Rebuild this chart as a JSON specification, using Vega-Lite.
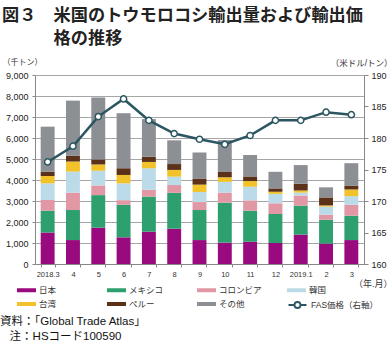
{
  "$schema": "https://vega.github.io/schema/vega-lite/v6.json",
  "width": 329,
  "height": 189,
  "autosize": "none",
  "padding": {"left": 35, "top": 75, "right": 28, "bottom": 88},
  "background": "white",
  "config": {
    "font": "Liberation Sans, Noto Sans CJK JP",
    "view": {"stroke": null},
    "legend": {"padding": 0}
  },
  "title": {
    "text": ["図３　米国のトウモロコシ輸出量および輸出価", "\u200b　　　格の推移"],
    "anchor": "start",
    "frame": "group",
    "font": "Noto Sans CJK JP",
    "fontSize": 17.2,
    "fontWeight": "bold",
    "color": "#222222",
    "lineHeight": 23,
    "offset": 11,
    "dx": -33
  },
  "datasets": {
    "bars": [
      {"month": "2018.3", "country": "日本", "value": 1500},
      {"month": "2018.3", "country": "メキシコ", "value": 1040},
      {"month": "2018.3", "country": "コロンビア", "value": 510},
      {"month": "2018.3", "country": "韓国", "value": 790},
      {"month": "2018.3", "country": "台湾", "value": 350},
      {"month": "2018.3", "country": "ペルー", "value": 210},
      {"month": "2018.3", "country": "その他", "value": 2140},
      {"month": "4", "country": "日本", "value": 1140},
      {"month": "4", "country": "メキシコ", "value": 1430},
      {"month": "4", "country": "コロンビア", "value": 830},
      {"month": "4", "country": "韓国", "value": 1000},
      {"month": "4", "country": "台湾", "value": 480},
      {"month": "4", "country": "ペルー", "value": 270},
      {"month": "4", "country": "その他", "value": 2630},
      {"month": "5", "country": "日本", "value": 1730},
      {"month": "5", "country": "メキシコ", "value": 1550},
      {"month": "5", "country": "コロンビア", "value": 460},
      {"month": "5", "country": "韓国", "value": 700},
      {"month": "5", "country": "台湾", "value": 300},
      {"month": "5", "country": "ペルー", "value": 240},
      {"month": "5", "country": "その他", "value": 2950},
      {"month": "6", "country": "日本", "value": 1270},
      {"month": "6", "country": "メキシコ", "value": 1550},
      {"month": "6", "country": "コロンビア", "value": 220},
      {"month": "6", "country": "韓国", "value": 800},
      {"month": "6", "country": "台湾", "value": 400},
      {"month": "6", "country": "ペルー", "value": 320},
      {"month": "6", "country": "その他", "value": 2620},
      {"month": "7", "country": "日本", "value": 1540},
      {"month": "7", "country": "メキシコ", "value": 1670},
      {"month": "7", "country": "コロンビア", "value": 320},
      {"month": "7", "country": "韓国", "value": 1030},
      {"month": "7", "country": "台湾", "value": 300},
      {"month": "7", "country": "ペルー", "value": 250},
      {"month": "7", "country": "その他", "value": 1790},
      {"month": "8", "country": "日本", "value": 1680},
      {"month": "8", "country": "メキシコ", "value": 1710},
      {"month": "8", "country": "コロンビア", "value": 370},
      {"month": "8", "country": "韓国", "value": 400},
      {"month": "8", "country": "台湾", "value": 320},
      {"month": "8", "country": "ペルー", "value": 280},
      {"month": "8", "country": "その他", "value": 1130},
      {"month": "9", "country": "日本", "value": 1140},
      {"month": "9", "country": "メキシコ", "value": 1430},
      {"month": "9", "country": "コロンビア", "value": 380},
      {"month": "9", "country": "韓国", "value": 480},
      {"month": "9", "country": "台湾", "value": 350},
      {"month": "9", "country": "ペルー", "value": 290},
      {"month": "9", "country": "その他", "value": 1240},
      {"month": "10", "country": "日本", "value": 1020},
      {"month": "10", "country": "メキシコ", "value": 1900},
      {"month": "10", "country": "コロンビア", "value": 480},
      {"month": "10", "country": "韓国", "value": 510},
      {"month": "10", "country": "台湾", "value": 220},
      {"month": "10", "country": "ペルー", "value": 250},
      {"month": "10", "country": "その他", "value": 1520},
      {"month": "11", "country": "日本", "value": 1060},
      {"month": "11", "country": "メキシコ", "value": 1480},
      {"month": "11", "country": "コロンビア", "value": 490},
      {"month": "11", "country": "韓国", "value": 650},
      {"month": "11", "country": "台湾", "value": 270},
      {"month": "11", "country": "ペルー", "value": 220},
      {"month": "11", "country": "その他", "value": 1020},
      {"month": "12", "country": "日本", "value": 1000},
      {"month": "12", "country": "メキシコ", "value": 1380},
      {"month": "12", "country": "コロンビア", "value": 510},
      {"month": "12", "country": "韓国", "value": 450},
      {"month": "12", "country": "台湾", "value": 100},
      {"month": "12", "country": "ペルー", "value": 160},
      {"month": "12", "country": "その他", "value": 790},
      {"month": "2019.1", "country": "日本", "value": 1400},
      {"month": "2019.1", "country": "メキシコ", "value": 1380},
      {"month": "2019.1", "country": "コロンビア", "value": 480},
      {"month": "2019.1", "country": "韓国", "value": 140},
      {"month": "2019.1", "country": "台湾", "value": 100},
      {"month": "2019.1", "country": "ペルー", "value": 320},
      {"month": "2019.1", "country": "その他", "value": 890},
      {"month": "2", "country": "日本", "value": 970},
      {"month": "2", "country": "メキシコ", "value": 1140},
      {"month": "2", "country": "コロンビア", "value": 240},
      {"month": "2", "country": "韓国", "value": 380},
      {"month": "2", "country": "台湾", "value": 60},
      {"month": "2", "country": "ペルー", "value": 380},
      {"month": "2", "country": "その他", "value": 480},
      {"month": "3", "country": "日本", "value": 1140},
      {"month": "3", "country": "メキシコ", "value": 1160},
      {"month": "3", "country": "コロンビア", "value": 520},
      {"month": "3", "country": "韓国", "value": 410},
      {"month": "3", "country": "台湾", "value": 320},
      {"month": "3", "country": "ペルー", "value": 170},
      {"month": "3", "country": "その他", "value": 1080}
    ],
    "price": [
      {"month": "2018.3", "price": 176.2},
      {"month": "4", "price": 178.7},
      {"month": "5", "price": 183.4},
      {"month": "6", "price": 186.2},
      {"month": "7", "price": 182.8},
      {"month": "8", "price": 180.7},
      {"month": "9", "price": 179.8},
      {"month": "10", "price": 179.0},
      {"month": "11", "price": 180.4},
      {"month": "12", "price": 182.8},
      {"month": "2019.1", "price": 182.8},
      {"month": "2", "price": 184.1},
      {"month": "3", "price": 183.7}
    ]
  },
  "layer": [
    {
      "data": {"name": "bars"},
      "transform": [
        {"calculate": "indexof(['日本','メキシコ','コロンビア','韓国','台湾','ペルー','その他'], datum.country)", "as": "stackOrder"}
      ],
      "mark": {"type": "bar"},
      "encoding": {
        "x": {
          "field": "month",
          "type": "nominal",
          "sort": ["2018.3", "4", "5", "6", "7", "8", "9", "10", "11", "12", "2019.1", "2", "3"],
          "scale": {"paddingInner": 0.45, "paddingOuter": 0.225},
          "axis": {
            "labelAngle": 0,
            "labelFontSize": 7.5,
            "labelColor": "#333333",
            "labelPadding": 3,
            "tickBand": "extent",
            "tickSize": 3,
            "tickColor": "#888888",
            "domainColor": "#888888",
            "title": "（年.月）",
            "titleFontSize": 9,
            "titleFontWeight": "normal",
            "titleColor": "#333333",
            "titleAlign": "right",
            "titleBaseline": "middle",
            "titleX": 357,
            "titleY": 19
          }
        },
        "y": {
          "field": "value",
          "type": "quantitative",
          "stack": "zero",
          "scale": {"domain": [0, 9000]},
          "axis": {
            "values": [0, 1000, 2000, 3000, 4000, 5000, 6000, 7000, 8000, 9000],
            "format": ",d",
            "labelFontSize": 9,
            "labelColor": "#222222",
            "labelPadding": 4,
            "tickSize": 3,
            "tickColor": "#888888",
            "domainColor": "#888888",
            "gridColor": "#a6a6a6",
            "title": "（千トン）",
            "titleAngle": 0,
            "titleFontSize": 8,
            "titleFontWeight": "normal",
            "titleColor": "#333333",
            "titleAlign": "left",
            "titleBaseline": "middle",
            "titleX": -33,
            "titleY": -13
          }
        },
        "color": {
          "field": "country",
          "type": "nominal",
          "sort": ["日本", "メキシコ", "コロンビア", "韓国", "台湾", "ペルー", "その他"],
          "scale": {
            "domain": ["日本", "メキシコ", "コロンビア", "韓国", "台湾", "ペルー", "その他"],
            "range": ["#990a7e", "#2e9f6e", "#e297a5", "#bcdbe8", "#f2c22a", "#5b3219", "#8c8f93"]
          },
          "legend": {
            "orient": "none",
            "legendX": -35,
            "legendY": 210,
            "direction": "horizontal",
            "columns": 4,
            "gridAlign": "all",
            "columnPadding": 8,
            "rowPadding": 4,
            "symbolType": "M-1.9,-0.4H1.9V0.4H-1.9Z",
            "symbolSize": 100,
            "symbolOffset": 21.5,
            "symbolStrokeWidth": 0,
            "labelOffset": 7.5,
            "labelFontSize": 8.5,
            "labelColor": "#333333",
            "title": ["資料：「Global Trade Atlas」", "\u200b\u2002\u2004注：HSコード100590"],
            "titleOrient": "bottom",
            "titleAnchor": "start",
            "titleFontSize": 11.5,
            "titleFontWeight": "normal",
            "titleColor": "#111111",
            "titleLineHeight": 15,
            "titlePadding": 7
          }
        },
        "order": {"field": "stackOrder", "type": "quantitative", "sort": "ascending"}
      }
    },
    {
      "data": {"name": "price"},
      "mark": {
        "type": "line",
        "strokeWidth": 2.5,
        "point": {"filled": true, "fill": "white", "stroke": "#2a5561", "strokeWidth": 1.5, "size": 38}
      },
      "encoding": {
        "x": {
          "field": "month",
          "type": "nominal",
          "sort": ["2018.3", "4", "5", "6", "7", "8", "9", "10", "11", "12", "2019.1", "2", "3"]
        },
        "y": {
          "field": "price",
          "type": "quantitative",
          "scale": {"domain": [160, 190], "zero": false},
          "axis": {
            "orient": "right",
            "values": [160, 165, 170, 175, 180, 185, 190],
            "grid": false,
            "labelFontSize": 9,
            "labelColor": "#222222",
            "labelPadding": 3,
            "tickSize": 4,
            "tickColor": "#888888",
            "domainColor": "#888888",
            "title": "（米ドル/トン）",
            "titleAngle": 0,
            "titleFontSize": 8.5,
            "titleFontWeight": "normal",
            "titleColor": "#333333",
            "titleAlign": "right",
            "titleBaseline": "middle",
            "titleX": 28,
            "titleY": -13
          }
        },
        "stroke": {
          "datum": "FAS価格（右軸）",
          "type": "nominal",
          "scale": {"range": ["#2a5561"]},
          "legend": {
            "orient": "none",
            "legendX": 235,
            "legendY": 224,
            "title": null,
            "symbolType": "M-1.8,0H-0.6M0.6,0H1.8M-0.6,0A0.6,0.6,0,1,1,0.6,0A0.6,0.6,0,1,1,-0.6,0",
            "symbolSize": 100,
            "symbolOffset": 21.5,
            "symbolStrokeWidth": 1.8,
            "symbolFillColor": "white",
            "labelOffset": 7.5,
            "labelFontSize": 8.5,
            "labelColor": "#333333"
          }
        }
      }
    }
  ],
  "resolve": {"scale": {"y": "independent"}}
}
